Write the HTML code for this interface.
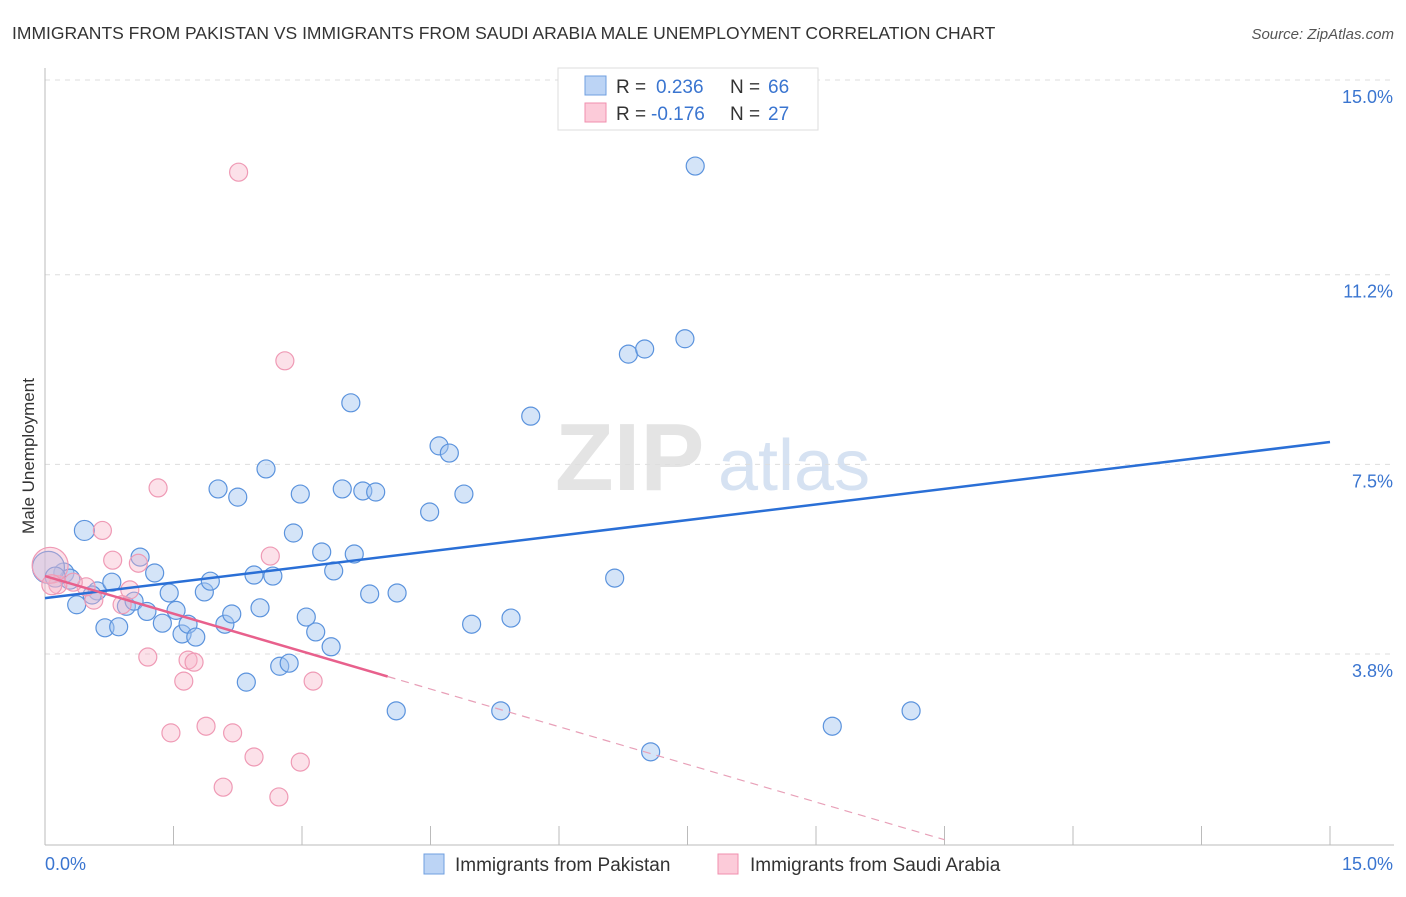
<!DOCTYPE html>
<html><head><meta charset="utf-8"><style>
body{margin:0;background:#fff;font-family:"Liberation Sans",sans-serif;}
svg text{font-family:"Liberation Sans",sans-serif;}
</style></head><body>
<svg id="chart" width="1406" height="892" viewBox="0 0 1406 892" xmlns="http://www.w3.org/2000/svg">
<text x="12" y="39" font-size="17.5" fill="#333">IMMIGRANTS FROM PAKISTAN VS IMMIGRANTS FROM SAUDI ARABIA MALE UNEMPLOYMENT CORRELATION CHART</text>
<text x="1394" y="39" font-size="15" fill="#555" font-style="italic" text-anchor="end">Source: ZipAtlas.com</text>
<g>
<text x="555" y="490" font-size="96" fill="#e4e4e4" font-family="Liberation Serif" font-weight="bold">ZIP</text>
<text x="718" y="490" font-size="72" fill="#d6e2f2">atlas</text>
</g>
<g id="grid"></g>
<g id="axes"></g>
<g id="marks"></g>
<text transform="translate(34,456) rotate(-90)" font-size="17" fill="#333" text-anchor="middle">Male Unemployment</text>
<g>
<rect x="558" y="68" width="260" height="62" fill="#fff" stroke="#ddd"/>
<rect x="585" y="76" width="21" height="19" fill="#bcd4f5" stroke="#6f9fe0"/>
<text x="616" y="93" font-size="19" fill="#333">R =</text>
<text x="656" y="93" font-size="19" fill="#3a75d0">0.236</text>
<text x="730" y="93" font-size="19" fill="#333">N =</text>
<text x="768" y="93" font-size="19" fill="#3a75d0">66</text>
<rect x="585" y="103" width="21" height="19" fill="#fccbd9" stroke="#f08fae"/>
<text x="616" y="120" font-size="19" fill="#333">R =</text>
<text x="651" y="120" font-size="19" fill="#3a75d0">-0.176</text>
<text x="730" y="120" font-size="19" fill="#333">N =</text>
<text x="768" y="120" font-size="19" fill="#3a75d0">27</text>
</g>
<g>
<rect x="424" y="854" width="20" height="20" fill="#bcd4f5" stroke="#6f9fe0"/>
<text x="455" y="871" font-size="19" fill="#333">Immigrants from Pakistan</text>
<rect x="718" y="854" width="20" height="20" fill="#fccbd9" stroke="#f08fae"/>
<text x="750" y="871" font-size="19" fill="#333">Immigrants from Saudi Arabia</text>
</g>
</svg>
<script>
const yTicks=[15.0,11.2,7.5,3.8];
const yTickLabels=["15.0%","11.2%","7.5%","3.8%"];
const xTicks=[0,1.5,3,4.5,6,7.5,9,10.5,12,13.5,15];
const pakX=[0.46,0.22,0.29,0.37,0.61,0.70,0.86,0.78,0.95,1.04,1.11,1.19,1.28,1.37,1.45,1.53,1.60,1.67,1.76,1.86,1.93,2.02,2.10,2.18,2.25,2.35,2.44,2.51,2.58,2.66,2.74,2.85,2.90,2.98,3.05,3.16,3.23,3.34,3.37,3.47,3.57,3.61,3.71,3.79,3.86,4.10,4.11,4.49,4.60,4.72,4.89,4.98,5.32,5.44,5.67,6.65,6.81,7.00,7.07,7.47,7.59,9.19,10.11,0.04,0.12,0.55];
const pakY=[6.21,5.38,5.26,4.76,5.03,4.31,4.33,5.20,4.73,4.83,5.69,4.63,5.38,4.40,4.99,4.65,4.19,4.38,4.13,5.01,5.22,7.02,4.38,4.58,6.86,3.25,5.34,4.70,7.41,5.32,3.56,3.62,6.16,6.92,4.52,4.23,5.79,3.94,5.42,7.02,8.70,5.75,6.98,4.97,6.96,2.69,4.99,6.57,7.86,7.72,6.92,4.38,2.69,4.50,8.44,5.28,9.65,9.75,1.89,9.95,13.32,2.39,2.69,5.49,5.30,4.95];
const pakSize=[10,10,10,9,9,9,9,9,9,9,9,9,9,9,9,9,9,9,9,9,9,9,9,9,9,9,9,9,9,9,9,9,9,9,9,9,9,9,9,9,9,9,9,9,9,9,9,9,9,9,9,9,9,9,9,9,9,9,9,9,9,9,9,16,10,9];
const sauX=[2.26,2.80,1.32,0.67,0.79,1.09,2.63,0.99,0.57,0.48,0.33,0.15,0.90,1.20,1.67,1.74,1.62,3.13,1.47,1.88,2.19,2.44,2.98,2.08,2.73,0.06,0.08];
const sauY=[13.20,9.52,7.04,6.21,5.63,5.57,5.71,5.05,4.85,5.11,5.20,5.15,4.76,3.74,3.68,3.64,3.27,3.27,2.26,2.39,2.26,1.79,1.69,1.20,1.01,5.53,5.15];
const sauSize=[9,9,9,9,9,9,9,9,9,9,9,9,9,9,9,9,9,9,9,9,9,9,9,9,9,18,10];
const pakFit=[4.89,0.203]; // intercept, slope
const sauFit=[5.32,-0.49];
const sauSolidEnd=4.0, sauDashEnd=10.5;

const X0=45,X1=1330,Y0=848.7,PY=51.25;
const sx=v=>X0+(v/15)*(X1-X0);
const sy=v=>Y0-v*PY;
const NS="http://www.w3.org/2000/svg";
function mk(tag,parent,attrs){const e=document.createElementNS(NS,tag);for(const k in attrs)e.setAttribute(k,attrs[k]);parent.appendChild(e);return e;}
const grid=document.getElementById('grid'),axes=document.getElementById('axes'),marks=document.getElementById('marks');
yTicks.forEach((t,i)=>{
  const l=mk('line',grid,{x1:45,x2:1394,y1:sy(t),y2:sy(t),stroke:'#ddd','stroke-dasharray':'5,5'});
  
  
  const tx=mk('text',grid,{x:1393,y:sy(t)+23,'font-size':18,fill:'#3a75d0','text-anchor':'end'});
  tx.textContent=yTickLabels[i];
  
  
});
const ya=mk('line',axes,{x1:45,x2:45,y1:68,y2:845,stroke:'#bbb'});


const xa=mk('line',axes,{x1:45,x2:1394,y1:845,y2:845,stroke:'#bbb'});


xTicks.forEach(t=>{
  const l=mk('line',axes,{x1:sx(t),x2:sx(t),y1:826,y2:845,stroke:'#bbb'});
  
  
});
const xl0=mk('text',axes,{x:45,y:870,'font-size':18,fill:'#3a75d0'});xl0.textContent='0.0%';


const xl1=mk('text',axes,{x:1393,y:870,'font-size':18,fill:'#3a75d0','text-anchor':'end'});xl1.textContent='15.0%';


pakX.forEach((x,i)=>{
  const c=mk('circle',marks,{cx:sx(x),cy:sy(pakY[i]),r:pakSize[i],fill:'rgba(160,195,240,0.45)',stroke:'#5b93dd','stroke-width':1.2});
  
  
});
sauX.forEach((x,i)=>{
  const c=mk('circle',marks,{cx:sx(x),cy:sy(sauY[i]),r:sauSize[i],fill:'rgba(248,180,200,0.4)',stroke:'#ef9ab5','stroke-width':1.2});
  
  
});
const pl=mk('line',marks,{x1:sx(0),y1:sy(pakFit[0]),x2:sx(15),y2:sy(pakFit[0]+pakFit[1]*15),stroke:'#2a6fd6','stroke-width':2.5});


const sl=mk('line',marks,{x1:sx(0),y1:sy(sauFit[0]),x2:sx(sauSolidEnd),y2:sy(sauFit[0]+sauFit[1]*sauSolidEnd),stroke:'#e8608c','stroke-width':2.5});


const sd=mk('line',marks,{x1:sx(sauSolidEnd),y1:sy(sauFit[0]+sauFit[1]*sauSolidEnd),x2:sx(sauDashEnd),y2:sy(sauFit[0]+sauFit[1]*sauDashEnd),stroke:'#e8a0b8','stroke-width':1.2,'stroke-dasharray':'8,6'});


</script>
</body></html>
